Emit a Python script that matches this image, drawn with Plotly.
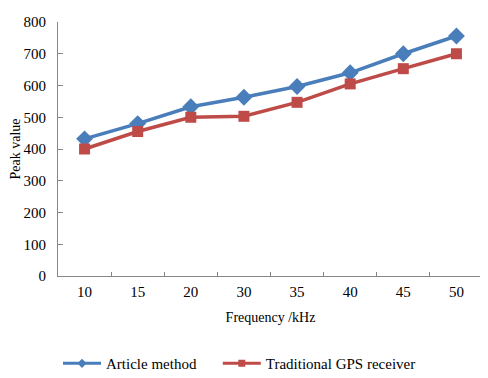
import plotly.graph_objects as go

categories = ["10", "15", "20", "30", "35", "40", "45", "50"]
article_method = [432, 480, 533, 563, 597, 640, 700, 756]
traditional_gps = [400, 455, 500, 503, 547, 605, 653, 700]
y_ticks = [0, 100, 200, 300, 400, 500, 600, 700, 800]

font_family = "Liberation Serif"
blue = "#4A7EBB"
red = "#BE4B48"

fig = go.Figure()
fig.add_trace(go.Scatter(
    x=categories, y=article_method, name="Article method",
    mode="lines+markers", showlegend=False,
    line=dict(color=blue, width=3.5),
    marker=dict(symbol="diamond", size=13, color=blue),
))
fig.add_trace(go.Scatter(
    x=categories, y=traditional_gps, name="Traditional GPS receiver",
    mode="lines+markers", showlegend=False,
    line=dict(color=red, width=3.5),
    marker=dict(symbol="square", size=11, color=red),
))
# legend entries (smaller marker samples, as in the reference)
fig.add_trace(go.Scatter(
    x=[None], y=[None], name="Article method", mode="lines+markers", legend="legend",
    line=dict(color=blue, width=3), marker=dict(symbol="diamond", size=7, color=blue),
))
fig.add_trace(go.Scatter(
    x=[None], y=[None], name="Traditional GPS receiver", mode="lines+markers", legend="legend2",
    line=dict(color=red, width=3), marker=dict(symbol="square", size=7, color=red),
))

legend_common = dict(orientation="h", xanchor="left", y=-0.28, yanchor="top",
                     font=dict(size=15), itemwidth=38, bgcolor="rgba(0,0,0,0)")

fig.update_layout(
    width=480, height=370,
    margin=dict(l=50, r=5, t=14, b=102, autoexpand=False),
    paper_bgcolor="white", plot_bgcolor="white",
    font=dict(family=font_family, size=14, color="black"),
    showlegend=True,
    legend=dict(x=0.0, **legend_common),
    legend2=dict(x=0.376, **legend_common),
)
fig.update_xaxes(
    type="category", range=[-0.5, 7.5], automargin=False,
    showline=True, linecolor="#868686", linewidth=1,
    ticks="inside", tickson="boundaries", ticklen=4, tickcolor="#868686",
    showgrid=False, zeroline=False,
    title=dict(text="Frequency /kHz", font=dict(size=14), standoff=13),
    tickfont=dict(size=15), ticklabelstandoff=2,
)
fig.update_yaxes(
    range=[0, 800], tickvals=y_ticks, automargin=False,
    showline=True, linecolor="#868686", linewidth=1,
    ticks="inside", ticklen=5, tickcolor="#868686",
    showgrid=False, zeroline=False,
    title=dict(text="Peak value", font=dict(size=14), standoff=6),
    tickfont=dict(size=15), ticklabelstandoff=8,
)

fig.write_html("out.html")
